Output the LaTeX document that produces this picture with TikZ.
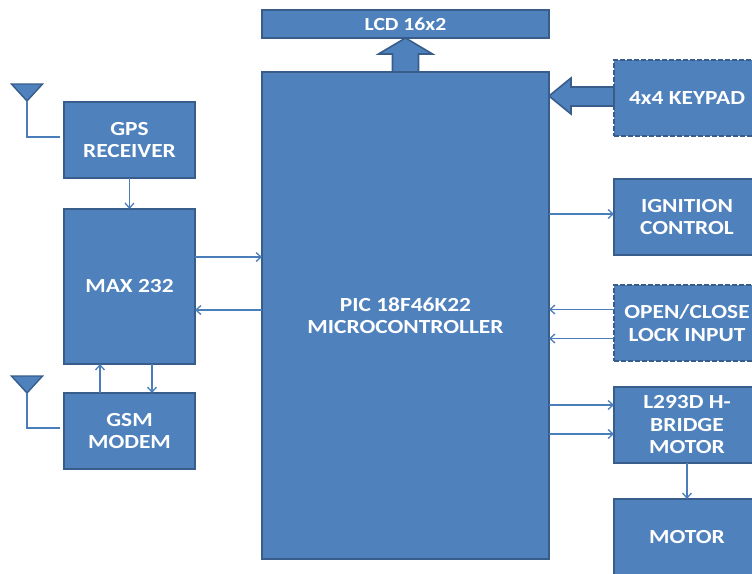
\documentclass[tikz,border=0pt]{standalone}
\usepackage{fontspec}
\setmainfont{Carlito}[FakeStretch=1.17]
\usepackage{xcolor}
\usetikzlibrary{arrows.meta,positioning,shapes.geometric}
\definecolor{boxfill}{HTML}{4F81BD}
\definecolor{boxline}{HTML}{385D8A}
\definecolor{linkline}{HTML}{4A7EBB}

\begin{document}
\begin{tikzpicture}[x=1pt, y=1pt,
    block/.style={draw=boxline, line width=1.6pt, fill=boxfill, outer sep=0pt, inner sep=0pt, align=center, text=white, font=\fontsize{20}{22.5}\selectfont\bfseries},
    dashblock/.style={block, dash pattern=on 5pt off 2pt},
    link/.style={draw=linkline, line width=1.3pt, -{Straight Barb[length=5pt, width=9pt]}},
    wire/.style={draw=linkline, line width=1.3pt, shorten >=4pt},
    bigarrow/.style={draw=boxline, line width=1.6pt, fill=boxfill, line join=miter},
    antenna/.style={draw=boxline, line width=1.4pt, fill=boxfill, isosceles triangle, isosceles triangle apex angle=85, shape border rotate=-90, minimum height=17pt, inner sep=0pt, outer sep=0pt, anchor=apex}]
    \useasboundingbox (0,0) rectangle (752,-573);
    \clip (0,0) rectangle (752,-573);
    % centre
    \node (mcu) [block, minimum width=287pt, minimum height=487pt] at (405.5,-315.5) {PIC 18F46K22\\MICROCONTROLLER};
    \node (lcd) [block, above=34pt of mcu, minimum width=287pt, minimum height=28pt, font=\fontsize{18.5}{22.5}\selectfont\bfseries] {LCD 16x2};
    % left column
    \node (gps) [block, minimum width=131pt, minimum height=76pt] at (129.5,-140) {GPS\\RECEIVER};
    \node (max) [block, below=31pt of gps, minimum width=131pt, minimum height=155pt] {MAX 232};
    \node (gsm) [block, below=29pt of max, minimum width=131pt, minimum height=76pt] {GSM\\MODEM};
    \node (gpsant) [antenna] at (27,-101) {};
    \node (gsmant) [antenna] at (27,-393) {};
    % right column
    \node (keypad) [dashblock, minimum width=146pt, minimum height=76pt] at (687,-98) {4x4 KEYPAD};
    \node (ignition) [block, below=43pt of keypad, minimum width=146pt, minimum height=76pt] {IGNITION\\CONTROL};
    \node (lock) [dashblock, below=30pt of ignition, minimum width=146pt, minimum height=76pt] {OPEN/CLOSE\\LOCK INPUT};
    \node (bridge) [block, below=26pt of lock, minimum width=146pt, minimum height=76pt] {L293D H-\\BRIDGE\\MOTOR};
    \node (motor) [block, below=36pt of bridge, minimum width=146pt, minimum height=76pt] {MOTOR};
    \coordinate (keytip) at ([yshift=2pt]keypad.west -| mcu.east);
    % wide arrows
    \draw[bigarrow] (lcd.south) -- ++(27,-16) -- ++(-14,0) -- ++(0,-18) -- ++(-26,0) -- ++(0,18) -- ++(-14,0) -- cycle;
    \draw[bigarrow] (keytip) -- ++(22,18) -- ++(0,-9) -- ++(43,0) -- ++(0,-19) -- ++(-43,0) -- ++(0,-8) -- cycle;
    % thin arrows
    \draw[wire] (gpsant.apex) |- ([yshift=3pt]gps.west);
    \draw[wire] (gsmant.apex) |- ([yshift=3pt]gsm.west);
    \draw[link] (gps) -- (max);
    \draw[link] ([xshift=-29.5pt]gsm.north) -- ([xshift=-29.5pt]max.south);
    \draw[link] ([xshift=22.5pt]max.south) -- ([xshift=22.5pt]gsm.north);
    \draw[link] ([yshift=29.5pt]max.east) -- ([yshift=29.5pt]max.east -| mcu.west);
    \draw[link] ([yshift=-23.5pt]max.east -| mcu.west) -- ([yshift=-23.5pt]max.east);
    \draw[link] ([yshift=3pt]ignition.west -| mcu.east) -- ([yshift=3pt]ignition.west);
    \draw[link] ([yshift=13.5pt]lock.west) -- ([yshift=13.5pt]lock.west -| mcu.east);
    \draw[link] ([yshift=-15.5pt]lock.west) -- ([yshift=-15.5pt]lock.west -| mcu.east);
    \draw[link] ([yshift=20pt]bridge.west -| mcu.east) -- ([yshift=20pt]bridge.west);
    \draw[link] ([yshift=-9pt]bridge.west -| mcu.east) -- ([yshift=-9pt]bridge.west);
    \draw[link] (bridge) -- (motor);
  \end{tikzpicture}
\end{document}
